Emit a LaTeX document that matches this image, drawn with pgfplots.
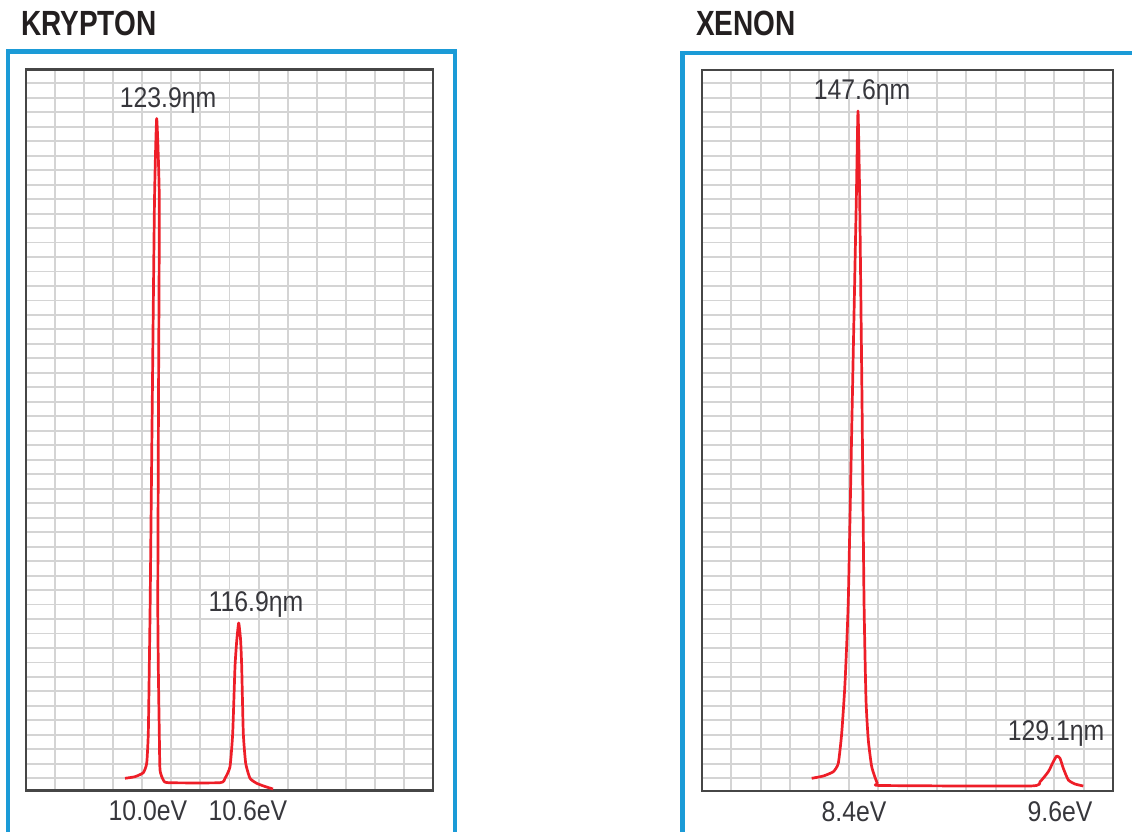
\documentclass[border=0pt]{standalone}
\usepackage{pgfplots}
\pgfplotsset{compat=1.18}
\usepackage{fontspec}
\setmainfont{Liberation Sans}
\newfontfamily\titlefont[FakeStretch=0.8]{Liberation Sans}
\newfontfamily\lblfont[FakeStretch=0.87]{Liberation Sans}
\definecolor{frameblue}{RGB}{27,155,215}
\definecolor{peakred}{RGB}{238,30,40}
\definecolor{gridgray}{RGB}{212,212,212}
\definecolor{boxgray}{RGB}{70,70,70}
\definecolor{txt}{RGB}{55,55,60}
\definecolor{ttl}{RGB}{35,31,32}
\pgfplotsset{spec/.style={scale only axis, anchor=south west, clip=false,
  grid=major, major grid style={draw=gridgray, line width=1.9pt},
  axis line style={draw=boxgray, line width=2.4pt},
  major tick length=0, xticklabels={}, yticklabels={},
  ytick={52.7,67.18,...,748}}}
\tikzset{lbl/.style={font=\lblfont\fontsize{28.5}{32}\selectfont, text=txt, inner sep=0pt, anchor=base}}
\begin{document}
\begin{tikzpicture}[x=1pt,y=1pt]
\useasboundingbox (0,0) rectangle (1132,831);
\draw[frameblue, line width=4.5pt] (8,-5) -- (8,779.3) -- (455,779.3) -- (455,-5);
\draw[frameblue, line width=4.5pt] (682.5,-5) -- (682.5,778.2) -- (1140,778.2);
\node[anchor=base west, inner sep=0pt, text=ttl, font=\titlefont\bfseries\fontsize{35}{40}\selectfont] at (21,795.5) {KRYPTON};
\node[anchor=base west, inner sep=0pt, text=ttl, font=\titlefont\bfseries\fontsize{35}{40}\selectfont] at (696,795.5) {XENON};

% KRYPTON
\begin{axis}[spec, at={(26pt,40.5pt)}, width=407pt, height=721pt,
  xmin=26, xmax=433, ymin=40.5, ymax=761.5,
  xtick={55.071,84.143,...,404}]
\addplot[peakred, line width=2.7pt, line join=round, smooth, tension=0.3] coordinates {
(125,52.7) (135,54.3) (143.3,58.3) (146.7,67.7) (148.3,97.7) (149.3,164.3)
(150.2,231) (152.3,431) (154.5,631) (156.7,712.5) (159.3,631) (158.5,431)
(157.8,231) (158.3,164.3) (159.3,97.7) (160,61) (163.3,51) (168.3,48.3)
(220,48.3) (225,52.7) (230,64.3) (232.7,97.7) (235,164.3) (236.8,191)
(238.7,208) (240.6,191) (241.7,164.3) (243.3,97.7) (245.7,67.7) (250,52.7)
(256.7,47.7) (265,44.5) (273,42)};
\node[lbl] at (axis cs:168,723.7) {123.9ηm};
\node[lbl] at (axis cs:256,219.3) {116.9ηm};
\node[lbl] at (axis cs:148,11) {10.0eV};
\node[lbl] at (axis cs:248,11) {10.6eV};
\end{axis}

% XENON
\begin{axis}[spec, at={(702pt,40pt)}, width=411pt, height=721pt,
  xmin=702, xmax=1113, ymin=40, ymax=761,
  xtick={731.357,760.714,...,1084}]
\addplot[peakred, line width=2.7pt, line join=round, smooth, tension=0.3] coordinates {
(811.7,52.7) (823.3,55) (833.3,59.3) (838.3,67.7) (841.7,97.7) (845,148)
(848.3,231) (852.3,431) (856.3,631) (858,720) (859.7,631) (862,431)
(864,231) (866,131) (868.3,91) (871.7,64.3) (877.3,47.7) (882,45.5)
(1030,45) (1040,49.3) (1048.3,59.3) (1053.3,69.3) (1056.7,75) (1060,72.7)
(1063.3,62.7) (1068.3,51) (1075,47) (1083.3,45)};
\node[lbl] at (axis cs:862,731.7) {147.6ηm};
\node[lbl] at (axis cs:1056,90.3) {129.1ηm};
\node[lbl] at (axis cs:854,9.3) {8.4eV};
\node[lbl] at (axis cs:1060,9.3) {9.6eV};
\end{axis}
\end{tikzpicture}
\end{document}
